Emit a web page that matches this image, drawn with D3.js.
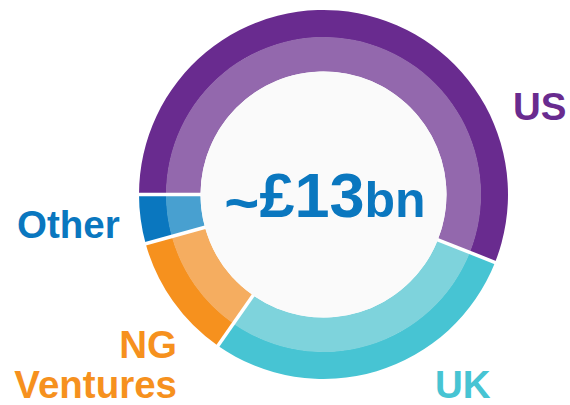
<!DOCTYPE html>
<html>
<head>
<meta charset="utf-8">
<style>
body { margin: 0; background: #fff; }
svg text { font-family: "Liberation Sans", Arial, sans-serif; font-weight: bold; }
</style>
<script src="https://cdn.jsdelivr.net/npm/d3@7"></script>
</head>
<body>
<svg width="570" height="405"></svg>
<script>
// shares of the total, read clockwise from 9 o'clock
var categories = ["US", "UK", "NG Ventures", "Other"];
var shares = [56, 28.7, 11, 4.3];
var darkColors = ["#692b8f", "#47c4d3", "#f6911e", "#0a77bf"];
var lightColors = ["#9368ad", "#7ed3dc", "#f5ad60", "#48a0d0"];
var totalLabel = ["~", "£13", "bn"];

var svg = d3.select("svg"),
  cx = 323.5, cy = 194.5,
  rOuter = 184.5, rMid = 157, rInner = 123;

var g = svg.append("g")
  .attr("transform", "translate(" + cx + "," + cy + ")");

var data = categories.map(function(c, i) {
  return { name: c, value: shares[i], dark: darkColors[i], light: lightColors[i] };
});

var pie = d3.pie()
  .sort(null)
  .value(function(d) { return d.value; })
  .startAngle(-Math.PI / 2)
  .endAngle(Math.PI * 1.5);

var arcs = pie(data);

var outerArc = d3.arc().innerRadius(rMid).outerRadius(rOuter);
var innerArc = d3.arc().innerRadius(rInner).outerRadius(rMid + 0.5);

g.selectAll(".outer")
  .data(arcs)
  .enter().append("path")
  .attr("class", "outer")
  .attr("d", outerArc)
  .attr("fill", function(d) { return d.data.dark; });

g.selectAll(".inner")
  .data(arcs)
  .enter().append("path")
  .attr("class", "inner")
  .attr("d", innerArc)
  .attr("fill", function(d) { return d.data.light; });

// white gaps between slices
g.selectAll(".sep")
  .data(arcs)
  .enter().append("line")
  .attr("class", "sep")
  .attr("x1", function(d) { return d3.pointRadial(d.startAngle, rInner - 2)[0]; })
  .attr("y1", function(d) { return d3.pointRadial(d.startAngle, rInner - 2)[1]; })
  .attr("x2", function(d) { return d3.pointRadial(d.startAngle, rOuter + 3)[0]; })
  .attr("y2", function(d) { return d3.pointRadial(d.startAngle, rOuter + 3)[1]; })
  .attr("stroke", "#fff")
  .attr("stroke-width", 3.5);

g.append("circle")
  .attr("r", rInner)
  .attr("fill", "#fafafa");

// centre total
var total = svg.append("text")
  .attr("x", 325)
  .attr("y", 217)
  .attr("text-anchor", "middle")
  .attr("fill", "#0a77bf");
total.append("tspan").attr("font-size", 60).attr("dy", 6).text(totalLabel[0]);
total.append("tspan").attr("font-size", 63).attr("dy", -6).text(totalLabel[1]);
total.append("tspan").attr("font-size", 50).text(totalLabel[2]);

// slice labels
var labelPos = [
  { x: 513, y: 120, anchor: "start", lines: ["US"] },
  { x: 435, y: 398, anchor: "start", lines: ["UK"] },
  { x: 177, y: 358, anchor: "end", lines: ["NG", "Ventures"] },
  { x: 17, y: 238, anchor: "start", lines: ["Other"] }
];

data.forEach(function(d, i) {
  var p = labelPos[i];
  var t = svg.append("text")
    .attr("x", p.x)
    .attr("y", p.y)
    .attr("text-anchor", p.anchor)
    .attr("font-size", 38.5)
    .attr("fill", d.dark);
  p.lines.forEach(function(line, j) {
    t.append("tspan")
      .attr("x", p.x)
      .attr("dy", j === 0 ? 0 : 40)
      .text(line);
  });
});
</script>
</body>
</html>
